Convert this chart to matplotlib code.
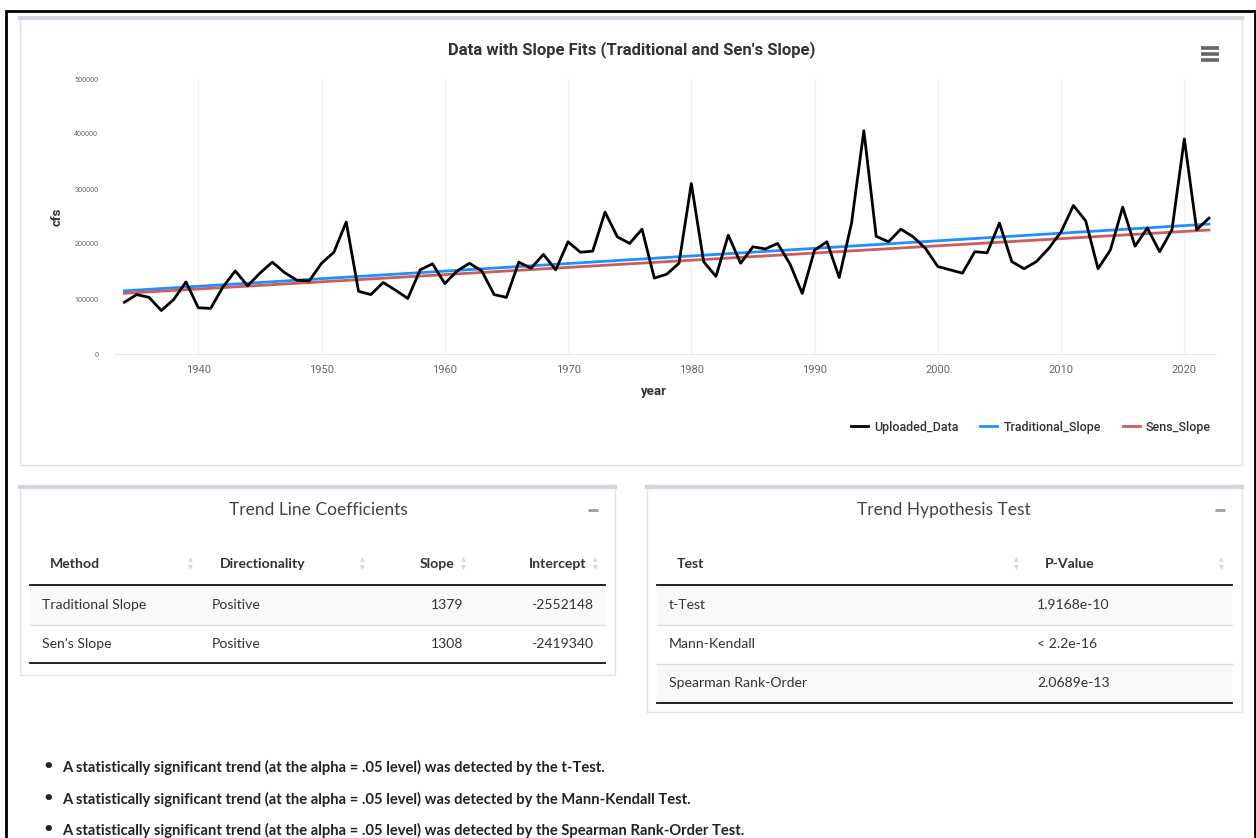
import matplotlib
matplotlib.use("Agg")
import matplotlib.pyplot as plt
import numpy as np
from matplotlib.patches import Rectangle
from matplotlib.lines import Line2D

# ---- data ----
years = list(range(1934, 2023))
flow_cfs = [94000, 108000, 103000, 79000, 99000, 131000, 84000, 83000, 122000, 151000,
            124000, 147000, 167000, 148000, 134000, 133000, 165000, 185000, 240000, 114000,
            108000, 130000, 116000, 101000, 153000, 164000, 128000, 151000, 165000, 151000,
            108000, 103000, 167000, 156000, 181000, 153000, 204000, 185000, 187000, 258000,
            213000, 201000, 227000, 138000, 145000, 165000, 310000, 168000, 141000, 216000,
            165000, 195000, 191000, 201000, 164000, 110000, 189000, 204000, 139000, 238000,
            406000, 214000, 204000, 227000, 213000, 192000, 159000, 153000, 147000, 186000,
            184000, 238000, 168000, 155000, 168000, 192000, 222000, 270000, 242000, 155000,
            189000, 267000, 196000, 229000, 186000, 226000, 391000, 226000, 247000]

methods = ["Traditional Slope", "Sen's Slope"]
directionality = ["Positive", "Positive"]
slopes = [1379, 1308]
intercepts = [-2552148, -2419340]

tests = ["t-Test", "Mann-Kendall", "Spearman Rank-Order"]
p_values = ["1.9168e-10", "< 2.2e-16", "2.0689e-13"]

bullets = [
    "A statistically significant trend (at the alpha = .05 level) was detected by the t-Test.",
    "A statistically significant trend (at the alpha = .05 level) was detected by the Mann-Kendall Test.",
    "A statistically significant trend (at the alpha = .05 level) was detected by the Spearman Rank-Order Test.",
]

W, H = 1256, 838
fig = plt.figure(figsize=(W / 100, H / 100), dpi=100)
fig.patch.set_facecolor("white")


def fx(x):
    return x / W


def fy(y):
    return 1 - y / H


def box(x0, y0, x1, y1, **kw):
    r = Rectangle((fx(x0), fy(y1)), (x1 - x0) / W, (y1 - y0) / H,
                  transform=fig.transFigure, **kw)
    fig.add_artist(r)


def hline(x0, x1, y, **kw):
    fig.add_artist(Line2D([fx(x0), fx(x1)], [fy(y), fy(y)], transform=fig.transFigure, **kw))


def txt(x, y, s, **kw):
    kw.setdefault("va", "center")
    fig.text(fx(x), fy(y), s, **kw)


# outer frame
box(6, 11, 1255, 845, fill=False, edgecolor="black", lw=2, zorder=-5)

# cards (kept below the axes)
def card(x0, y0, x1, y1):
    box(x0, y0, x1, y1, facecolor="white", edgecolor="#e4e4e4", lw=1, zorder=-4)
    hline(x0, x1, y0 + 1, color="#d2d6de", lw=3, zorder=-3)


card(20, 17, 1242, 465)
card(20, 486, 615, 675)
card(647, 486, 1242, 712)

# ---- chart ----
ax = fig.add_axes([fx(115), fy(354), 1100 / W, 275 / H])
x = np.array(years)
ax.plot(x, flow_cfs, color="black", lw=2, label="Uploaded_Data", zorder=3)
colors = ["#1e90ff", "#cd5c5c"]
labels = ["Traditional_Slope", "Sens_Slope"]
for s, b, c, lab in zip(slopes, intercepts, colors, labels):
    ax.plot(x, s * x + b, color=c, lw=2, label=lab, zorder=2)

ax.set_xlim(1933.24, 2022.49)
ax.set_ylim(0, 500000)
ax.set_xticks(range(1940, 2021, 10))
ax.set_yticks(range(0, 500001, 100000))
ax.set_yticklabels([str(v) for v in range(0, 500001, 100000)])
ax.tick_params(axis="x", length=0, pad=8, labelsize=8, labelcolor="#666666")
ax.tick_params(axis="y", length=0, pad=12, labelsize=5.2, labelcolor="#666666")
for lab in ax.get_xticklabels() + ax.get_yticklabels():
    lab.set_fontfamily("Roboto")
ax.grid(axis="x", color="#f1f1f1", lw=1)
ax.set_axisbelow(True)
for sp in ["top", "right", "left"]:
    ax.spines[sp].set_visible(False)
ax.spines["bottom"].set_color("#e6e6e6")
ax.patch.set_alpha(0)

txt(632, 50, "Data with Slope Fits (Traditional and Sen's Slope)", ha="center",
    fontsize=12, fontweight="bold", color="#333333", family="Roboto")
txt(654, 392, "year", ha="center", fontsize=9.5, fontweight="bold", color="#333333", family="Roboto")
txt(57, 217, "cfs", ha="center", fontsize=9.5, fontweight="bold", color="#333333",
    family="Roboto", rotation=90)

# hamburger menu
for yy in (48, 54, 60):
    hline(1201, 1219, yy, color="#666666", lw=2.6, solid_capstyle="butt")

leg = ax.legend(loc="center right", bbox_to_anchor=(fx(1211), fy(427)),
                bbox_transform=fig.transFigure, ncol=3, frameon=False,
                borderaxespad=0, borderpad=0,
                handlelength=1.35, handletextpad=0.5, columnspacing=1.75,
                prop={"family": "Roboto", "size": 9, "weight": "medium"})
for t in leg.get_texts():
    t.set_color("#333333")

# ---- tables ----
TF = "Lato"
CELL = 10.1


def sort_arrows(x):
    txt(x, 560, "\u25B2", ha="center", fontsize=4.5, color="#d6d6d6")
    txt(x, 568, "\u25BC", ha="center", fontsize=4.5, color="#d6d6d6")


def minus(x):
    hline(x - 5, x + 5, 510, color="#97a0b3", lw=2, solid_capstyle="butt")


# left card
txt(318, 510, "Trend Line Coefficients", ha="center", fontsize=12.5, color="#444444", family=TF)
minus(593)
for s, xx, ha in [("Method", 50, "left"), ("Directionality", 220, "left"),
                  ("Slope", 454, "right"), ("Intercept", 586, "right")]:
    txt(xx, 564, s, ha=ha, fontsize=CELL, fontweight="bold", color="#333333", family=TF)
for xx in (190, 362, 463, 595):
    sort_arrows(xx)
row_y = [605, 644]
box(30, 585, 605, 625, facecolor="#f9f9f9", edgecolor="none", zorder=-2)
for i in range(len(methods)):
    yy = row_y[i]
    txt(42, yy, methods[i], ha="left", fontsize=CELL, color="#333333", family=TF)
    txt(212, yy, directionality[i], ha="left", fontsize=CELL, color="#333333", family=TF)
    txt(463, yy, str(slopes[i]), ha="right", fontsize=CELL, color="#333333", family=TF)
    txt(593, yy, str(intercepts[i]), ha="right", fontsize=CELL, color="#333333", family=TF)
hline(30, 605, 585, color="#111111", lw=1.3)
hline(30, 605, 625, color="#dddddd", lw=1)
hline(30, 605, 663, color="#111111", lw=1.3)

# right card
txt(944, 510, "Trend Hypothesis Test", ha="center", fontsize=12.5, color="#444444", family=TF)
minus(1220)
txt(677, 564, "Test", ha="left", fontsize=CELL, fontweight="bold", color="#333333", family=TF)
txt(1045, 564, "P-Value", ha="left", fontsize=CELL, fontweight="bold", color="#333333", family=TF)
sort_arrows(1016)
sort_arrows(1221)
trow_y = [605, 644, 683]
box(657, 585, 1232, 625, facecolor="#f9f9f9", edgecolor="none", zorder=-2)
box(657, 664, 1232, 703, facecolor="#f9f9f9", edgecolor="none", zorder=-2)
for i in range(len(tests)):
    txt(669, trow_y[i], tests[i], ha="left", fontsize=CELL, color="#333333", family=TF)
    txt(1037, trow_y[i], p_values[i], ha="left", fontsize=CELL, color="#333333", family=TF)
hline(657, 1232, 585, color="#111111", lw=1.3)
hline(657, 1232, 625, color="#dddddd", lw=1)
hline(657, 1232, 664, color="#dddddd", lw=1)
hline(657, 1232, 703, color="#111111", lw=1.3)

# ---- bullet notes ----
for yy, s in zip([767, 799, 830], bullets):
    txt(48, yy, "\u2022", ha="center", fontsize=13, fontweight="bold", color="#222222")
    txt(62, yy, s, ha="left", fontsize=10.6, fontweight="bold", color="#222222", family=TF)

fig.savefig("out.png", dpi=100, facecolor="white")
